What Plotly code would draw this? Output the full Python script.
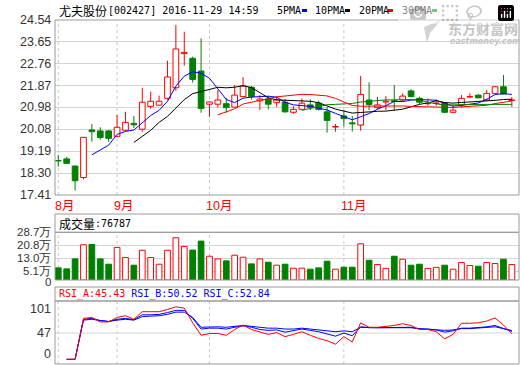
import plotly.graph_objects as go
import pandas as pd

# ---------------- data ----------------
idx = list(range(1, 56))

opens = [18.81, 18.88, 18.59, 18.12, 20.06, 20.02, 20.02, 19.80, 20.05, 20.33,
         20.09, 21.02, 21.07, 21.35, 21.78, 23.17, 22.98, 22.46, 21.11, 21.11,
         21.13, 20.99, 21.42, 21.80, 21.25, 21.32, 21.17, 21.19, 20.78, 20.90,
         21.08, 21.15, 20.80, 20.18, 20.63, 20.35, 20.26, 21.28, 20.97, 21.20,
         21.25, 21.28, 21.65, 21.35, 21.13, 21.14, 21.15, 20.78, 21.08, 21.40,
         21.48, 21.28, 21.55, 21.82, 21.26]
highs = [19.04, 18.96, 18.60, 19.76, 20.30, 20.17, 20.06, 20.67, 20.80, 20.63,
         21.78, 21.62, 21.46, 22.88, 24.34, 24.06, 23.05, 23.79, 21.22, 21.69,
         21.37, 21.89, 22.21, 21.85, 21.48, 21.44, 21.41, 21.32, 21.02, 21.34,
         21.30, 21.25, 21.00, 20.30, 20.87, 20.63, 22.26, 22.00, 21.41, 21.44,
         21.89, 21.55, 21.72, 21.42, 21.34, 21.30, 21.20, 21.05, 21.48, 21.55,
         21.52, 21.69, 21.85, 22.30, 21.40]
lows = [18.56, 18.67, 17.59, 18.05, 19.58, 19.67, 19.58, 19.76, 20.02, 20.14,
        19.99, 20.92, 21.05, 21.29, 21.65, 22.68, 21.99, 20.76, 20.60, 20.97,
        20.76, 20.97, 21.42, 21.30, 20.87, 20.90, 21.00, 20.76, 20.72, 20.87,
        20.87, 20.85, 19.95, 19.99, 20.20, 20.00, 20.03, 20.87, 20.90, 20.87,
        20.85, 21.22, 21.39, 21.12, 21.05, 21.05, 20.74, 20.76, 20.97, 21.35,
        21.35, 21.24, 21.55, 21.50, 21.00]
closes = [18.80, 18.70, 17.99, 19.76, 19.99, 19.75, 19.72, 20.17, 20.37, 20.27,
          21.19, 21.23, 21.23, 22.22, 23.36, 23.22, 22.12, 20.94, 21.20, 21.28,
          20.97, 21.48, 21.85, 21.42, 21.32, 21.11, 21.28, 20.80, 20.90, 21.15,
          20.98, 20.90, 20.45, 20.20, 20.52, 20.31, 21.51, 21.10, 21.08, 21.23,
          21.22, 21.44, 21.42, 21.19, 21.15, 21.16, 20.78, 20.87, 21.35, 21.42,
          21.37, 21.55, 21.82, 21.53, 21.28]
# volume in 万
volumes = [7.3, 6.7, 12.7, 21.2, 21.4, 12.7, 9.5, 19.6, 13.5, 8.9,
           17.9, 13.5, 9.5, 17.9, 25.4, 20.2, 18.0, 23.4, 14.3, 12.7,
           11.5, 14.9, 13.7, 9.7, 12.7, 10.7, 8.9, 9.5, 7.1, 7.1,
           6.5, 7.3, 11.3, 6.5, 7.7, 7.7, 21.8, 11.9, 9.3, 7.0,
           14.3, 12.5, 8.9, 9.5, 7.0, 7.6, 8.9, 6.5, 10.5, 8.7,
           8.3, 10.5, 9.9, 12.5, 9.3]
rsi_a = [None, -12, -12, 80, 82, 72, 72, 82, 86, 78,
         95, 95, 95, 100, 106, 103, 70, 42, 46, 46,
         42, 55, 65, 55, 49, 44, 48, 39, 44, 50,
         42, 35, 30, 22, 39, 27, 70, 60, 60, 62,
         64, 68, 64, 55, 55, 50, 34, 44, 69, 69,
         70, 74, 81, 65, 45.43]
rsi_b = [None, -12, -12, 78, 80, 75, 73, 78, 80, 77,
         88, 88, 89, 93, 98, 98, 80, 56, 58, 58,
         56, 60, 63, 60, 55, 53, 54, 49, 52, 56,
         53, 50, 45, 40, 47, 41, 61, 59, 59, 59,
         59, 60, 60, 56, 56, 54, 49, 52, 58, 58,
         59, 61, 64, 58, 50.52]
rsi_c = [None, -12, -12, 76, 78, 75, 73, 76, 78, 76,
         84, 85, 86, 89, 94, 94, 82, 60, 61, 61,
         60, 62, 64, 62, 60, 58, 58, 56, 56, 58,
         56, 54, 52, 50, 52, 50, 60, 59, 59, 59,
         59, 59, 59, 57, 56, 55, 53, 54, 57, 57,
         58, 59, 61, 57, 52.84]

price_ticks = [17.41, 18.30, 19.19, 20.08, 20.98, 21.87, 22.76, 23.65, 24.54]
price_tick_text = ["17.41", "18.30", "19.19", "20.08", "20.98", "21.87", "22.76", "23.65", "24.54"]
vol_ticks = [0, 5.1, 13.0, 20.8, 28.7]
vol_tick_text = ["0", "5.1万", "13.0万", "20.8万", "28.7万"]
rsi_ticks = [0, 47, 101]
rsi_tick_text = ["0", "47", "101"]
month_pos = [1, 8, 19, 35]
month_labels = ["8月", "9月", "10月", "11月"]
ma_periods = [5, 10, 20, 30]
ma_names = ["5PMA", "10PMA", "20PMA", "30PMA"]

# ---------------- styles ----------------
RED = "#ff0000"
GREEN = "#008000"
BLUE = "#0000ff"
ma_colors = [BLUE, "#000000", RED, GREEN]
W, H = 520, 365
BORDER = "#9a9a9a"
GRID = "#d4d4d4"
TICKFONT = dict(family="Liberation Sans, Arial, Noto Sans CJK SC", size=12.5, color="#333333")
VOLFONT = dict(family="Liberation Sans, Arial", size=11.5, color="#333333")
MONO = "DejaVu Sans Mono, Liberation Mono, monospace"
CJK = "Noto Sans CJK SC"


def px(x):
    return x / W


def py(y):
    return 1 - y / H


up = [c > o for o, c in zip(opens, closes)]

fig = go.Figure()

# wicks
for flag, col in [(True, RED), (False, GREEN)]:
    wx, wy = [], []
    for i, o, h, l, c, u in zip(idx, opens, highs, lows, closes, up):
        if u != flag:
            continue
        top, bot = max(o, c), min(o, c)
        wx += [i, i, None, i, i, None]
        wy += [top, h, None, l, bot, None]
    fig.add_trace(go.Scatter(x=wx, y=wy, mode="lines", line=dict(color=col, width=1),
                             xaxis="x", yaxis="y", hoverinfo="skip"))

# bodies
for flag, col, fill in [(True, RED, "#ffffff"), (False, GREEN, GREEN)]:
    bx = [i for i, u in zip(idx, up) if u == flag]
    bb = [min(o, c) for o, c, u in zip(opens, closes, up) if u == flag]
    bh = [max(abs(c - o), 0.012) for o, c, u in zip(opens, closes, up) if u == flag]
    fig.add_trace(go.Bar(x=bx, y=bh, base=bb, width=0.68,
                         marker=dict(color=fill, line=dict(color=col, width=1)),
                         xaxis="x", yaxis="y", hoverinfo="skip"))

# moving averages
cs = pd.Series(closes)
for n, col in zip(ma_periods, ma_colors):
    ma = cs.rolling(n).mean()
    fig.add_trace(go.Scatter(x=idx, y=[None if pd.isna(v) else v for v in ma],
                             mode="lines", line=dict(color=col, width=1),
                             xaxis="x", yaxis="y", hoverinfo="skip", connectgaps=False))

# volume
for flag, col, fill in [(True, RED, "#ffffff"), (False, GREEN, GREEN)]:
    vx = [i for i, u in zip(idx, up) if u == flag]
    vy = [v for v, u in zip(volumes, up) if u == flag]
    fig.add_trace(go.Bar(x=vx, y=vy, width=0.68,
                         marker=dict(color=fill, line=dict(color=col, width=1)),
                         xaxis="x2", yaxis="y2", hoverinfo="skip"))

# RSI
for series, col in [(rsi_c, BLUE), (rsi_b, BLUE), (rsi_a, RED)]:
    fig.add_trace(go.Scatter(x=idx, y=series, mode="lines", line=dict(color=col, width=1),
                             xaxis="x3", yaxis="y3", hoverinfo="skip"))

xdom = [px(55), px(519)]
xrange_ = [0.61, 55.85]
xcommon = dict(domain=xdom, range=xrange_, showticklabels=False, showgrid=False,
               zeroline=False, ticks="", showline=False, fixedrange=True, automargin=False)
ycommon = dict(tickmode="array", showticklabels=False, gridcolor=GRID, gridwidth=1,
               zeroline=False, ticks="", automargin=False, fixedrange=True)

fig.update_layout(
    width=W, height=H, margin=dict(l=0, r=0, t=0, b=0, pad=0), autosize=False,
    paper_bgcolor="white", plot_bgcolor="white", showlegend=False,
    barmode="overlay",
    xaxis=dict(**xcommon, anchor="y"),
    xaxis2=dict(**xcommon, anchor="y2"),
    xaxis3=dict(**xcommon, anchor="y3"),
    yaxis=dict(**ycommon, domain=[py(195), py(20)], range=[17.41, 24.54],
               tickvals=price_ticks, showgrid=True, anchor="x"),
    yaxis2=dict(**ycommon, domain=[py(280), py(232.3)], range=[0, 28.7],
                tickvals=vol_ticks, showgrid=True, anchor="x2"),
    yaxis3=dict(**ycommon, domain=[py(364), py(301)], range=[-22.5, 119],
                tickvals=rsi_ticks, showgrid=False, anchor="x3"),
)

shapes = []
# month dashed lines in each panel
for m in month_pos:
    for yr, xr in [("y domain", "x"), ("y2 domain", "x2"), ("y3 domain", "x3")]:
        shapes.append(dict(type="line", xref=xr, yref=yr, x0=m, x1=m, y0=0, y1=1,
                           line=dict(color="#c8c8c8", width=1, dash="3px,3px"), layer="below"))
# RSI grid line at 47
shapes.append(dict(type="line", xref="paper", yref="y3", x0=xdom[0], x1=xdom[1], y0=47, y1=47,
                   line=dict(color=GRID, width=1), layer="below"))
# panel borders
for (y0, y1) in [(20, 195), (214, 232.3), (232.3, 280), (287, 301), (301, 364)]:
    shapes.append(dict(type="rect", xref="paper", yref="paper", x0=px(55), x1=px(519),
                       y0=py(y1), y1=py(y0), line=dict(color=BORDER, width=1),
                       fillcolor="rgba(0,0,0,0)", layer="above"))
# legend colour marks
for xl, c in zip([302, 345, 388, 432], ma_colors):
    shapes.append(dict(type="rect", xref="paper", yref="paper", x0=px(xl), x1=px(xl + 5),
                       y0=py(12), y1=py(9), fillcolor=c, line=dict(width=0), layer="above"))
# watermark logo
logo = [(441, 20), (424, 27), (427, 43), (430, 33), (441, 20)]
path = "M " + " L ".join(f"{px(a)},{py(b)}" for a, b in logo) + " Z"
shapes.append(dict(type="path", xref="paper", yref="paper", path=path,
                   fillcolor="#d2d2d2", line=dict(width=0), layer="above"))
fig.update_layout(shapes=shapes)

ann = []
# y tick labels, right aligned against the panels
for v, t in zip(price_ticks, price_tick_text):
    ann.append(dict(x=px(52), y=v, xref="paper", yref="y", text=t, showarrow=False,
                    xanchor="right", yanchor="middle", font=TICKFONT, borderpad=0))
vol_shift = {"0": -2, "5.1万": 1}
for v, t in zip(vol_ticks, vol_tick_text):
    ann.append(dict(x=px(52), y=v, xref="paper", yref="y2", text=t, showarrow=False,
                    xanchor="right", yanchor="middle", yshift=vol_shift.get(t, 0),
                    font=VOLFONT, borderpad=0))
for v, t in zip(rsi_ticks, rsi_tick_text):
    ann.append(dict(x=px(52), y=v, xref="paper", yref="y3", text=t, showarrow=False,
                    xanchor="right", yanchor="middle", font=TICKFONT, borderpad=0))
# month labels
for m, lab in zip(month_pos, month_labels):
    ann.append(dict(x=m, y=py(206), xref="x", yref="paper", text=lab, showarrow=False,
                    xanchor="left", yanchor="middle", xshift=-5,
                    font=dict(family="Liberation Sans, Noto Sans CJK SC", size=12.5, color=RED)))
# title
ann.append(dict(x=px(57), y=py(10), xref="paper", yref="paper", text="尤夫股份",
                showarrow=False, xanchor="left", yanchor="middle",
                font=dict(family=CJK, size=12, color="black")))
ann.append(dict(x=px(106), y=py(10), xref="paper", yref="paper",
                text="[002427] 2016-11-29 14:59", showarrow=False, xanchor="left",
                yanchor="middle", font=dict(family=MONO, size=10, color="black")))
# MA legend names
for xl, n in zip([275, 313, 357, 400], ma_names):
    ann.append(dict(x=px(xl), y=py(10), xref="paper", yref="paper", text=n, showarrow=False,
                    xanchor="left", yanchor="middle", font=dict(family=MONO, size=10, color="black")))
# watermark text
ann.append(dict(x=px(446), y=py(28), xref="paper", yref="paper", text="<b>东方财富网</b>",
                showarrow=False, xanchor="left", yanchor="middle",
                font=dict(family=CJK, size=14, color="#c4c4c4")))
ann.append(dict(x=px(448), y=py(42), xref="paper", yref="paper", text="<b><i>eastmoney.com</i></b>",
                showarrow=False, xanchor="left", yanchor="middle",
                font=dict(family="DejaVu Sans", size=8, color="#c4c4c4")))
# volume header
ann.append(dict(x=px(57), y=py(223), xref="paper", yref="paper", text="成交量",
                showarrow=False, xanchor="left", yanchor="middle",
                font=dict(family=CJK, size=12, color="black")))
ann.append(dict(x=px(93), y=py(223), xref="paper", yref="paper", text=":76787",
                showarrow=False, xanchor="left", yanchor="middle",
                font=dict(family=MONO, size=10, color="black")))
# RSI header
rsi_txt = (f"<span style='color:{RED}'>RSI_A:45.43</span> "
           f"<span style='color:{BLUE}'>RSI_B:50.52</span> "
           f"<span style='color:{BLUE}'>RSI_C:52.84</span>")
ann.append(dict(x=px(57), y=py(294), xref="paper", yref="paper", text=rsi_txt,
                showarrow=False, xanchor="left", yanchor="middle",
                font=dict(family=MONO, size=10, color=BLUE)))
fig.update_layout(annotations=ann)

fig.write_html("out.html",
               post_script="document.body.style.margin='0';document.body.style.overflow='hidden';")
